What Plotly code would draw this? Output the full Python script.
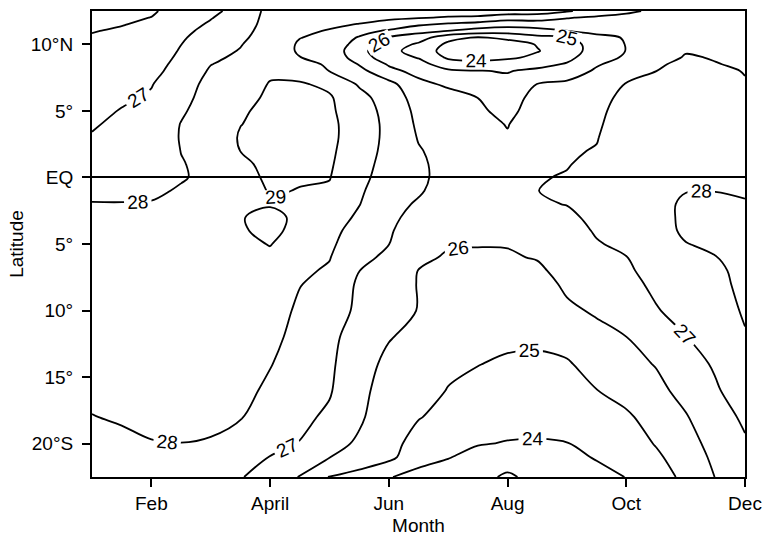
import plotly.graph_objects as go

# Month positions (1 = Jan ... 12 = Dec) and latitude rows (deg, north positive)
months = [1.0, 1.5, 2.0, 2.5, 3.0, 3.5, 4.0, 4.5, 5.0, 5.5, 6.0, 6.5,
          7.0, 7.5, 8.0, 8.5, 9.0, 9.5, 10.0, 10.5, 11.0, 11.5, 12.0]
lats = [12.5, 12, 11.5, 11, 10.5, 10, 9.5, 9, 8.5, 8, 7, 6, 5, 4, 3, 2, 1, 0,
        -1, -2, -3, -4, -5, -6, -7, -8, -10, -12, -14, -16, -18, -20, -21, -22.5]

# Sea surface temperature (deg C) for each month position, north to south
sst_jan = [25.4, 25.6, 25.8, 25.97, 26.06, 26.14, 26.2, 26.28, 26.34, 26.4, 26.5, 26.66, 26.79, 26.92, 27.06, 27.26, 27.45, 27.64,
           27.84, 28.03, 28.2, 28.3, 28.35, 28.4, 28.4, 28.4, 28.35, 28.3, 28.25, 28.15, 27.98, 27.8, 27.7, 27.6]
sst_jan_feb = [25.6, 25.8, 25.97, 26.08, 26.17, 26.26, 26.34, 26.41, 26.49, 26.57, 26.73, 26.88, 27.04, 27.18, 27.32, 27.46, 27.6, 27.74,
               27.88, 28.02, 28.2, 28.35, 28.45, 28.5, 28.5, 28.5, 28.45, 28.4, 28.3, 28.2, 28.07, 27.85, 27.75, 27.6]
sst_feb = [25.85, 26.02, 26.13, 26.22, 26.3, 26.38, 26.46, 26.55, 26.64, 26.73, 26.96, 27.09, 27.21, 27.33, 27.45, 27.56, 27.68, 27.8,
           27.91, 28.03, 28.25, 28.45, 28.55, 28.6, 28.6, 28.6, 28.55, 28.5, 28.4, 28.3, 28.15, 27.97, 27.85, 27.7]
sst_feb_mar = [26.5, 26.6, 26.7, 26.8, 26.9, 26.99, 27.08, 27.17, 27.28, 27.38, 27.55, 27.7, 27.88, 28.03, 28.05, 28.01, 27.97, 27.96,
               28.05, 28.3, 28.5, 28.65, 28.7, 28.72, 28.72, 28.7, 28.65, 28.6, 28.5, 28.4, 28.25, 27.99, 27.9, 27.8]
sst_mar = [26.8, 26.96, 27.09, 27.24, 27.39, 27.55, 27.7, 27.85, 27.98, 28.1, 28.3, 28.4, 28.45, 28.45, 28.35, 28.25, 28.15, 28.12,
           28.25, 28.45, 28.65, 28.8, 28.85, 28.85, 28.8, 28.8, 28.75, 28.7, 28.6, 28.4, 28.2, 27.93, 27.85, 27.75]
sst_mar_apr = [27.3, 27.4, 27.5, 27.65, 27.8, 27.95, 28.05, 28.15, 28.25, 28.35, 28.55, 28.7, 28.9, 28.98, 29.08, 29.01, 28.8, 28.7,
               28.65, 28.7, 28.98, 28.95, 28.82, 28.75, 28.75, 28.7, 28.65, 28.55, 28.45, 28.3, 28.05, 27.6, 27.35, 27.05]
sst_apr = [28.3, 28.35, 28.4, 28.45, 28.5, 28.55, 28.6, 28.65, 28.75, 28.85, 29.05, 29.15, 29.2, 29.25, 29.3, 29.3, 29.25, 29.15,
           29.05, 28.97, 29.1, 29.12, 29.03, 28.85, 28.7, 28.6, 28.4, 28.25, 28.05, 27.8, 27.55, 27.2, 26.98, 26.65]
sst_apr_may = [28.6, 28.45, 28.3, 28.15, 28.02, 27.9, 27.88, 28.02, 28.3, 28.6, 29.1, 29.2, 29.25, 29.3, 29.3, 29.25, 29.15, 29.05,
               28.98, 28.92, 28.92, 28.85, 28.6, 28.3, 28.15, 28.03, 27.85, 27.7, 27.5, 27.35, 27.2, 26.97, 26.65, 25.95]
sst_may = [28.6, 28.35, 28.13, 27.95, 27.8, 27.7, 27.68, 27.75, 27.88, 27.98, 28.8, 29.1, 29.15, 29.2, 29.2, 29.15, 29.1, 29.03,
           28.9, 28.65, 28.45, 28.3, 28.18, 28.04, 27.9, 27.75, 27.5, 27.3, 27.17, 27.08, 26.85, 26.35, 26.03, 24.95]
sst_may_jun = [28.5, 28.25, 27.97, 27.4, 26.9, 26.6, 26.3, 26.5, 26.95, 27.3, 27.9, 28.3, 28.45, 28.55, 28.55, 28.5, 28.4, 28.3,
               28.15, 28.03, 27.85, 27.6, 27.4, 27.2, 27.01, 26.85, 26.8, 26.45, 26.35, 26.25, 26.15, 25.85, 25.5, 24.7]
sst_jun = [28.4, 28.15, 27.7, 26.85, 25.95, 25.55, 25.3, 25.45, 25.9, 26.25, 27.3, 27.55, 27.7, 27.75, 27.75, 27.7, 27.62, 27.52,
           27.4, 27.3, 27.2, 27.1, 27.01, 26.85, 26.7, 26.6, 26.35, 26.05, 25.8, 25.6, 25.4, 25.35, 25.25, 24.05]
sst_jun_jul = [28.3, 28.05, 27.15, 26.3, 25.5, 24.85, 24.6, 24.95, 25.35, 25.7, 26.25, 26.6, 26.75, 26.85, 26.95, 27.06, 27.15, 27.2,
               27.1, 26.9, 26.7, 26.5, 26.35, 26.2, 25.98, 25.95, 25.97, 25.75, 25.5, 25.3, 25.05, 24.6, 24.35, 23.7]
sst_jul = [28.3, 27.95, 26.85, 25.98, 24.3, 23.8, 23.6, 23.85, 24.5, 25.15, 25.85, 26.35, 26.5, 26.6, 26.65, 26.7, 26.7, 26.65,
           26.6, 26.5, 26.4, 26.25, 26.08, 25.9, 25.75, 25.65, 25.45, 25.3, 25.15, 24.97, 24.7, 24.3, 24.05, 23.5]
sst_jul_aug = [28.4, 27.88, 26.6, 25.6, 23.9, 23.55, 23.45, 23.7, 24.3, 25.03, 25.45, 25.99, 26.2, 26.35, 26.4, 26.45, 26.45, 26.42,
               26.38, 26.3, 26.22, 26.15, 26.05, 25.85, 25.7, 25.55, 25.35, 25.2, 25.02, 24.8, 24.5, 24.05, 23.7, 23.3]
sst_aug = [28.6, 27.4, 26.4, 25.45, 24.2, 23.6, 23.45, 23.85, 24.5, 24.95, 25.25, 25.45, 25.65, 25.95, 26.1, 26.25, 26.3, 26.3,
           26.27, 26.2, 26.15, 26.1, 26.04, 25.92, 25.75, 25.6, 25.35, 25.15, 24.9, 24.65, 24.35, 23.95, 23.5, 22.85]
sst_aug_sep = [28.45, 27.5, 26.4, 25.7, 24.7, 24.05, 23.95, 24.2, 24.7, 25.2, 26.02, 26.4, 26.6, 26.7, 26.8, 26.85, 26.9, 26.95,
               26.99, 26.92, 26.75, 26.5, 26.3, 26.05, 25.85, 25.65, 25.4, 25.15, 24.85, 24.6, 24.3, 23.93, 23.7, 23.3]
sst_sep = [28.1, 27.05, 26.6, 25.98, 24.9, 24.5, 24.45, 24.7, 25.1, 25.6, 26.15, 26.5, 26.65, 26.75, 26.82, 26.9, 26.96, 27.05,
           27.15, 27.02, 26.85, 26.7, 26.55, 26.42, 26.3, 26.15, 25.85, 25.4, 24.9, 24.65, 24.4, 23.97, 23.75, 23.4]
sst_sep_oct = [27.6, 26.85, 26.5, 26.2, 25.8, 25.5, 25.5, 25.7, 25.93, 26.1, 26.4, 26.6, 26.75, 26.85, 26.95, 27.05, 27.2, 27.3,
               27.35, 27.3, 27.18, 27.07, 26.95, 26.8, 26.65, 26.5, 26.1, 25.75, 25.4, 24.98, 24.6, 24.3, 24.07, 23.7]
sst_oct = [27.2, 26.7, 26.4, 26.2, 26.05, 26.03, 26.02, 26.1, 26.3, 26.6, 27.05, 27.3, 27.45, 27.55, 27.62, 27.68, 27.72, 27.75,
           27.75, 27.7, 27.55, 27.35, 27.15, 26.98, 26.85, 26.7, 26.4, 25.99, 25.7, 25.35, 24.85, 24.55, 24.35, 24.02]
sst_oct_nov = [26.8, 26.6, 26.5, 26.45, 26.45, 26.5, 26.6, 26.72, 26.88, 26.99, 27.3, 27.55, 27.7, 27.78, 27.83, 27.87, 27.9, 27.92,
               27.93, 27.9, 27.85, 27.75, 27.6, 27.45, 27.35, 27.2, 26.93, 26.55, 26.05, 25.75, 25.4, 25.05, 24.85, 24.6]
sst_nov = [26.6, 26.55, 26.55, 26.6, 26.7, 26.83, 26.96, 27.05, 27.2, 27.35, 27.55, 27.7, 27.8, 27.85, 27.9, 27.95, 27.97, 27.98,
           27.99, 28.05, 28.08, 28.1, 27.98, 27.9, 27.8, 27.65, 27.35, 26.98, 26.65, 26.3, 25.93, 25.6, 25.45, 25.2]
sst_nov_dec = [26.7, 26.7, 26.72, 26.75, 26.8, 26.86, 26.92, 26.97, 27.02, 27.15, 27.4, 27.6, 27.72, 27.8, 27.87, 27.93, 27.96, 27.97,
               27.99, 28.1, 28.2, 28.2, 28.12, 27.98, 27.85, 27.75, 27.5, 27.25, 27.1, 26.9, 26.6, 26.35, 26.2, 26.02]
sst_dec = [26.8, 26.8, 26.8, 26.82, 26.84, 26.86, 26.88, 26.9, 26.93, 26.97, 27.05, 27.25, 27.45, 27.6, 27.72, 27.82, 27.9, 27.95,
           27.97, 28.02, 28.15, 28.22, 28.25, 28.25, 28.22, 28.22, 28.12, 27.92, 27.75, 27.45, 27.15, 26.9, 26.8, 26.65]

# Axis ticks
month_ticks = [2, 4, 6, 8, 10, 12]
month_labels = ["Feb", "April", "Jun", "Aug", "Oct", "Dec"]
lat_ticks = [10, 5, 0, -5, -10, -15, -20]
lat_labels = ["10°N", "5°", "EQ", "5°", "10°", "15°", "20°S"]

columns = [sst_jan, sst_jan_feb, sst_feb, sst_feb_mar, sst_mar, sst_mar_apr,
           sst_apr, sst_apr_may, sst_may, sst_may_jun, sst_jun, sst_jun_jul,
           sst_jul, sst_jul_aug, sst_aug, sst_aug_sep, sst_sep, sst_sep_oct,
           sst_oct, sst_oct_nov, sst_nov, sst_nov_dec, sst_dec]
# rows = latitudes, columns = months
z = [list(row) for row in zip(*columns)]

FONT = "Liberation Sans, Arial, Helvetica, sans-serif"
FSIZE = 19

fig = go.Figure(go.Contour(
    x=months, y=lats, z=z,
    contours=dict(start=23, end=29, size=1, coloring="lines",
                  showlabels=True,
                  labelfont=dict(family=FONT, size=FSIZE, color="black")),
    colorscale=[[0, "black"], [1, "black"]],
    line=dict(width=1.8, smoothing=1.0),
    showscale=False,
    hoverinfo="skip",
))

axis_common = dict(
    ticks="outside", ticklen=8, tickwidth=1.5, tickcolor="black",
    showline=True, linewidth=2, linecolor="black", mirror=True,
    showgrid=False, automargin=False,
    tickfont=dict(family=FONT, size=FSIZE, color="black"),
)

fig.update_xaxes(
    range=[1, 12], tickvals=month_ticks, ticktext=month_labels,
    zeroline=False,
    title=dict(text="Month", font=dict(family=FONT, size=FSIZE, color="black"), standoff=6),
    **axis_common,
)
fig.update_yaxes(
    range=[-22.5, 12.5], tickvals=lat_ticks, ticktext=lat_labels,
    zeroline=True, zerolinecolor="black", zerolinewidth=1.8,
    ticklabelstandoff=5,
    title=dict(text="Latitude", font=dict(family=FONT, size=FSIZE, color="black"), standoff=2),
    **axis_common,
)

fig.update_layout(
    width=763, height=543,
    margin=dict(l=92, r=18, t=11, b=66),
    paper_bgcolor="white", plot_bgcolor="white",
    font=dict(family=FONT, size=FSIZE, color="black"),
    showlegend=False,
)

fig.write_html("out.html")
